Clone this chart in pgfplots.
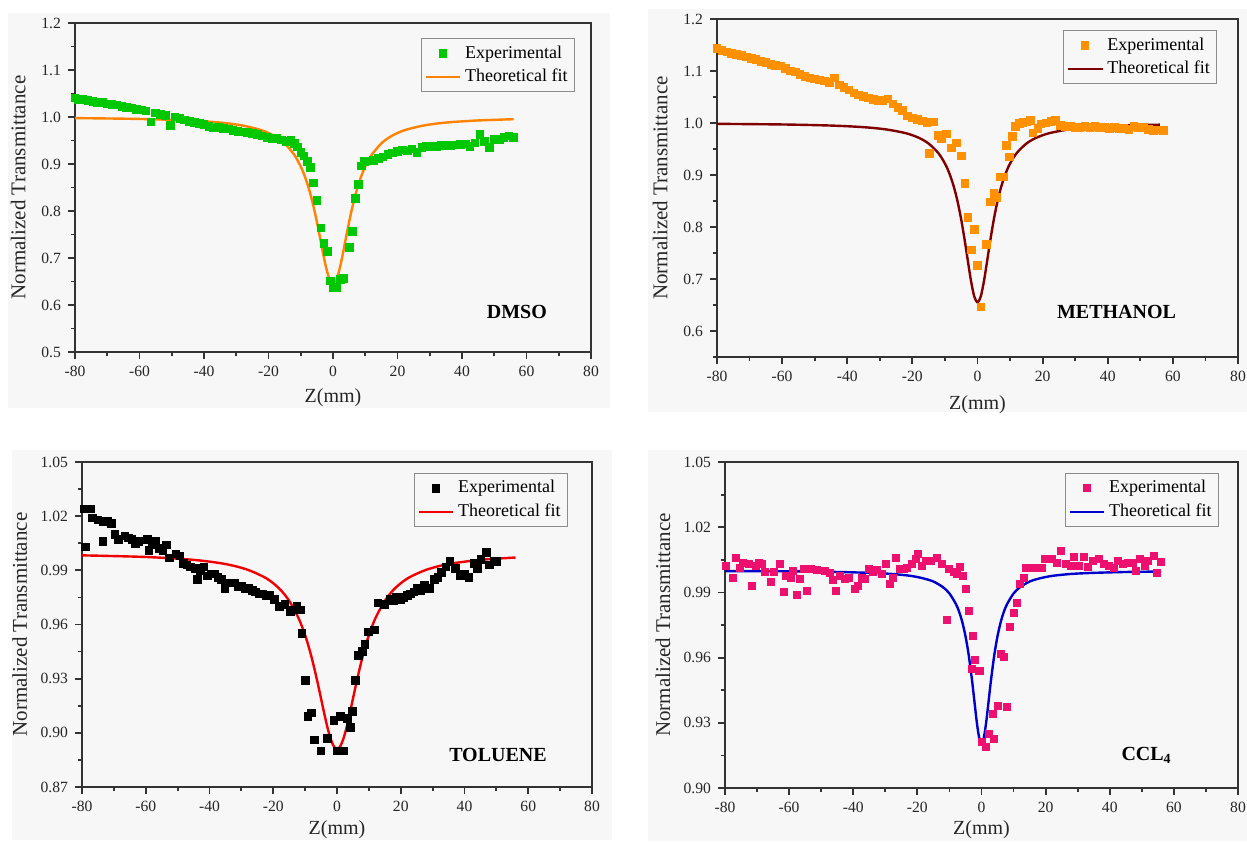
\documentclass[border=0pt]{standalone}
\usepackage{pgfplots}
\pgfplotsset{compat=1.18}
\usepackage{fontspec}
\setmainfont{Liberation Serif}

\definecolor{bgpanel}{RGB}{247,247,247}
\definecolor{dmsopts}{RGB}{0,200,0}
\definecolor{dmsofit}{RGB}{255,130,0}
\definecolor{methpts}{RGB}{255,145,0}
\definecolor{methfit}{RGB}{128,0,0}
\definecolor{tolfit}{RGB}{240,0,0}
\definecolor{ccpts}{RGB}{238,16,110}
\definecolor{ccfit}{RGB}{0,0,205}

\pgfplotsset{
  zscan/.style={
    scale only axis,
    xmin=-80, xmax=80,
    xtick={-80,-60,-40,-20,0,20,40,60,80},
    xticklabels={-80,-60,-40,-20,0,20,40,60,80},
    minor xtick={-70,-50,-30,-10,10,30,50,70},
    tick align=outside,
    xtick pos=left, ytick pos=left,
    major tick length=3.5pt, minor tick length=2pt,
    axis line style={line width=0.9pt, black!80},
    tick style={line width=0.9pt, black!80},
    ticklabel style={font=\fontsize{7.8}{9}\selectfont, text=black!85},
    xlabel={Z(mm)}, ylabel={Normalized Transmittance},
    label style={text=black!85},
    legend cell align=left,
    legend style={draw=black!45, fill=bgpanel, anchor=north east,
      font=\fontsize{9}{10.5}\selectfont, inner sep=1.5pt},
  },
  expts/.style={only marks, mark=square*, mark size=1.9pt},
  fitline/.style={no marks, smooth, line width=1.2pt},
  xlab/.style={xlabel style={at={(axis description cs:0.5,#1)}, anchor=center,
      font=\fontsize{10}{12}\selectfont}},
  ylab/.style={ylabel style={at={(axis description cs:#1,0.5)}, anchor=center,
      font=\fontsize{10.5}{12}\selectfont}},
}

\begin{document}
\begin{tikzpicture}
\path[use as bounding box] (0,0) rectangle (623.5pt,-420.5pt);
\fill[bgpanel] (4pt,-6.5pt) rectangle (305pt,-204pt);
\fill[bgpanel] (324pt,-4.5pt) rectangle (623.5pt,-206pt);
\fill[bgpanel] (6pt,-225pt) rectangle (306pt,-420pt);
\fill[bgpanel] (324pt,-225pt) rectangle (623.5pt,-420.5pt);

% DMSO
\begin{axis}[zscan, at={(37.5pt,-176pt)}, anchor=south west,
  width=258pt, height=164.5pt,
  ymin=0.5, ymax=1.2,
  ytick={0.5,0.6,0.7,0.8,0.9,1.0,1.1,1.2},
  yticklabels={0.5,0.6,0.7,0.8,0.9,1.0,1.1,1.2},
  minor ytick={0.55,0.65,0.75,0.85,0.95,1.05,1.15},
  xlab=-0.14, ylab=-0.11,
  legend style={at={(0.969,0.954)}}]
\addplot[expts, color=dmsopts] coordinates {
(-80,1.041) (-79,1.038) (-77.5,1.037) (-76,1.035) (-74.5,1.033) (-73,1.031)
(-71.5,1.031) (-70,1.028) (-68.5,1.027) (-67,1.026) (-65.5,1.022) (-64,1.021)
(-62.5,1.019) (-61,1.016) (-59.5,1.015) (-58,1.013) (-56.5,0.990) (-55,1.009)
(-53.5,1.006) (-52,1.004) (-50.5,0.982) (-49,1.000) (-47.5,0.997) (-46,0.994)
(-44.5,0.991) (-43,0.989) (-41.5,0.986) (-40,0.984) (-38.5,0.980) (-37,0.977)
(-35.5,0.978) (-34,0.976) (-32.5,0.975) (-31,0.972) (-29.5,0.970) (-28,0.968)
(-26.5,0.967) (-25,0.965) (-23.5,0.963) (-22,0.960) (-20.5,0.957) (-19,0.955)
(-17.5,0.954) (-16,0.951) (-14.5,0.948) (-13,0.950) (-12,0.944) (-11,0.936)
(-10,0.925) (-9,0.917) (-8,0.905) (-7,0.893) (-6,0.860) (-5,0.822)
(-3.8,0.764) (-2.8,0.731) (-1.8,0.714) (-0.8,0.651) (0.2,0.638) (1.2,0.636)
(2.2,0.655) (3.2,0.656) (5.0,0.722) (6.0,0.756) (7.0,0.827) (7.8,0.856)
(8.8,0.896) (9.8,0.905) (11,0.907) (12.5,0.908) (14,0.912) (15.5,0.915)
(17,0.921) (18.5,0.924) (20,0.927) (21.5,0.930) (23,0.928) (24.5,0.932)
(26,0.925) (27.5,0.935) (29,0.937) (30.5,0.937) (32,0.938) (33.5,0.940)
(35,0.939) (36.5,0.940) (38,0.941) (39.5,0.942) (41,0.943) (42.5,0.937)
(44,0.945) (45.5,0.963) (47,0.948) (48.5,0.935) (50,0.952) (51.5,0.953)
(53,0.956) (54.5,0.960) (56,0.957)
};
\addlegendentry{Experimental}
\addplot[fitline, color=dmsofit] coordinates {
(-80,0.9977) (-60,0.9959) (-45,0.9927) (-35,0.9882) (-28,0.9818) (-22,0.9715)
(-18,0.9590) (-15,0.9439) (-12,0.9195) (-10,0.8946) (-9,0.8783) (-8,0.8589)
(-7,0.8356) (-6,0.8083) (-5,0.7770) (-4,0.7425) (-3,0.7073) (-2,0.6757)
(-1,0.6532) (0,0.645) (1,0.6532) (2,0.6757) (3,0.7073) (4,0.7425) (5,0.7770)
(6,0.8083) (7,0.8356) (8,0.8589) (9,0.8783) (10,0.8946) (12,0.9195)
(15,0.9439) (18,0.9590) (22,0.9715) (28,0.9818) (35,0.9882) (45,0.9927)
(56,0.9953)
};
\addlegendentry{Theoretical fit}
\node[font=\bfseries\fontsize{10}{12}\selectfont] at (axis cs:57,0.585) {DMSO};
\end{axis}

% METHANOL
\begin{axis}[zscan, at={(358.5pt,-178.5pt)}, anchor=south west,
  width=260.5pt, height=169pt,
  ymin=0.55, ymax=1.2,
  ytick={0.6,0.7,0.8,0.9,1.0,1.1,1.2},
  yticklabels={0.6,0.7,0.8,0.9,1.0,1.1,1.2},
  minor ytick={0.55,0.65,0.75,0.85,0.95,1.05,1.15},
  xlab=-0.142, ylab=-0.109,
  legend style={at={(0.960,0.967)}}]
\addplot[expts, color=methpts] coordinates {
(-80,1.143) (-78.5,1.140) (-77,1.137) (-75.5,1.134) (-74,1.132) (-72.5,1.130)
(-71,1.127) (-69.5,1.124) (-68,1.122) (-66.5,1.119) (-65,1.116) (-63.5,1.113)
(-62,1.111) (-60.5,1.110) (-59,1.105) (-57.5,1.100) (-56,1.098) (-54.5,1.094)
(-53,1.090) (-51.5,1.087) (-50,1.085) (-48.5,1.083) (-47,1.081) (-45.5,1.078)
(-44,1.087) (-42.5,1.073) (-41,1.068) (-39.5,1.064) (-38,1.058) (-36.5,1.054)
(-35,1.051) (-33.5,1.048) (-32,1.045) (-30.5,1.044) (-29,1.043) (-27.5,1.046)
(-26,1.037) (-24.5,1.030) (-23,1.024) (-21.5,1.014) (-20,1.010) (-18.5,1.007)
(-17,1.004) (-15.5,1.001) (-14.8,0.942) (-13.5,1.002) (-12,0.976) (-11,0.970)
(-9.5,0.979) (-8,0.952) (-6.5,0.962) (-5,0.937) (-3.9,0.884) (-2.9,0.819)
(-1.9,0.756) (-0.9,0.795) (0,0.726) (1,0.646) (2.7,0.767) (3.9,0.848)
(5,0.865) (6,0.857) (7,0.896) (8,0.896) (8.8,0.957) (9.8,0.935)
(10.8,0.974) (11.7,0.994) (12.8,0.999) (14,1.001) (15.2,1.002) (16.2,1.005)
(17,0.981) (18.5,0.990) (19.5,0.998) (21,1.000) (22.5,1.003) (24,1.005)
(25.5,0.995) (27,0.993) (28.5,0.993) (30,0.992) (31.5,0.991) (33,0.993)
(34.5,0.992) (36,0.994) (37.5,0.992) (39,0.991) (40.5,0.990) (42,0.992)
(43.5,0.989) (45,0.990) (46.5,0.988) (48,0.993) (49.5,0.991) (51,0.992)
(52.5,0.988) (54,0.986) (55.5,0.987) (57,0.986)
};
\addlegendentry{Experimental}
\addplot[fitline, color=methfit] coordinates {
(-80,0.9984) (-60,0.9972) (-45,0.9951) (-35,0.9920) (-28,0.9876) (-22,0.9804)
(-18,0.9715) (-15,0.9604) (-12,0.9419) (-10,0.9221) (-9,0.9087) (-8,0.8920)
(-7,0.8713) (-6,0.8456) (-5,0.8142) (-4,0.7772) (-3,0.7364) (-2,0.6966)
(-1,0.6664) (0,0.655) (1,0.6664) (2,0.6966) (3,0.7364) (4,0.7772) (5,0.8142)
(6,0.8456) (7,0.8713) (8,0.8920) (9,0.9087) (10,0.9221) (12,0.9419)
(15,0.9604) (18,0.9715) (22,0.9804) (28,0.9876) (35,0.9920) (45,0.9951)
(56,0.9968)
};
\addlegendentry{Theoretical fit}
\node[font=\bfseries\fontsize{10}{12}\selectfont] at (axis cs:42.7,0.6365) {METHANOL};
\end{axis}

% TOLUENE
\begin{axis}[zscan, at={(41pt,-393.5pt)}, anchor=south west,
  width=255pt, height=162.5pt,
  ymin=0.87, ymax=1.05,
  ytick={0.87,0.90,0.93,0.96,0.99,1.02,1.05},
  yticklabels={0.87,0.90,0.93,0.96,0.99,1.02,1.05},
  minor ytick={0.885,0.915,0.945,0.975,1.005,1.035},
  xlab=-0.132, ylab=-0.122,
  legend style={at={(0.953,0.966)}}]
\addplot[expts, color=black] coordinates {
(-79.4,1.024) (-79.0,1.003) (-77.3,1.024) (-76.7,1.019) (-75.0,1.018) (-73.5,1.006)
(-73.5,1.017) (-71.9,1.017) (-70.8,1.016) (-69.7,1.010) (-68.6,1.007) (-66.5,1.009)
(-65.4,1.008) (-64.4,1.007) (-63.3,1.005) (-62.2,1.006) (-59.5,1.007) (-59.0,1.001)
(-57.9,1.004) (-56.8,1.006) (-55.7,1.002) (-54.6,1.001) (-53.6,1.004) (-52.5,0.997)
(-50.5,0.999) (-49.3,0.998) (-48.2,0.994) (-47.1,0.993) (-46.0,0.992) (-44.4,0.991)
(-43.8,0.985) (-42.8,0.990) (-41.7,0.992) (-40.6,0.987) (-39.5,0.988) (-38.5,0.988)
(-37.4,0.986) (-36.3,0.985) (-35.2,0.980) (-33.6,0.983) (-32.0,0.983) (-30.9,0.981)
(-29.8,0.981) (-28.7,0.980) (-27.7,0.980) (-26.6,0.979) (-25.6,0.978) (-24.5,0.977)
(-23.4,0.977) (-22.3,0.976) (-21.2,0.976) (-19.6,0.974) (-18.0,0.970) (-16.3,0.971)
(-14.7,0.967) (-13.6,0.968) (-12.6,0.970) (-11.5,0.968) (-11.0,0.955) (-9.9,0.929)
(-9.1,0.909) (-8.0,0.911) (-7.0,0.896) (-5.0,0.890) (-3.1,0.897) (-1.0,0.907)
(0.0,0.890) (1.0,0.909) (2.1,0.890) (3.2,0.908) (4.2,0.903) (4.9,0.912)
(5.8,0.929) (6.8,0.943) (7.9,0.945) (8.8,0.949) (9.9,0.956) (11.7,0.957)
(12.8,0.972) (14.9,0.971) (16.6,0.974) (17.6,0.973) (18.7,0.975) (19.8,0.974)
(20.9,0.975) (22.0,0.976) (23.0,0.977) (24.1,0.978) (25.2,0.980) (26.3,0.979)
(27.4,0.982) (29.0,0.980) (30.6,0.985) (31.6,0.986) (32.7,0.989) (34.2,0.992)
(35.4,0.995) (37.1,0.991) (38.7,0.987) (40.0,0.988) (41.4,0.986) (43.0,0.994)
(44.0,0.991) (45.1,0.996) (46.8,1.000) (47.8,0.993) (49.3,0.995) (50.0,0.995)
};
\addlegendentry{Experimental}
\addplot[fitline, color=tolfit] coordinates {
(-80,0.9983) (-60,0.9974) (-45,0.9958) (-35,0.9935) (-28,0.9903) (-22,0.9854)
(-18,0.9797) (-15,0.9731) (-12,0.9633) (-10,0.9540) (-9,0.9484) (-8,0.9420)
(-7,0.9348) (-6,0.9271) (-5,0.9189) (-4,0.9107) (-3,0.9030) (-2,0.8967)
(-1,0.8925) (0,0.891) (1,0.8925) (2,0.8967) (3,0.9030) (4,0.9107) (5,0.9189)
(6,0.9271) (7,0.9348) (8,0.9420) (9,0.9484) (10,0.9540) (12,0.9633)
(15,0.9731) (18,0.9797) (22,0.9854) (28,0.9903) (35,0.9935) (45,0.9958)
(56,0.9971)
};
\addlegendentry{Theoretical fit}
\node[font=\bfseries\fontsize{10}{12}\selectfont] at (axis cs:50.5,0.888) {TOLUENE};
\end{axis}

% CCL4
\begin{axis}[zscan, at={(362.5pt,-394pt)}, anchor=south west,
  width=256.5pt, height=163pt,
  ymin=0.90, ymax=1.05,
  ytick={0.90,0.93,0.96,0.99,1.02,1.05},
  yticklabels={0.90,0.93,0.96,0.99,1.02,1.05},
  minor ytick={0.915,0.945,0.975,1.005,1.035},
  xlab=-0.129, ylab=-0.121,
  legend style={at={(0.963,0.966)}}]
\addplot[expts, mark size=1.75pt, color=ccpts] coordinates {
(-79.7,1.0022) (-77.5,0.9966) (-76.5,1.0060) (-75.4,1.0015) (-74.3,1.0037) (-72.7,1.0030)
(-71.6,0.9930) (-70.5,1.0022) (-69.5,1.0037) (-68.4,1.0030) (-67.5,0.9996) (-65.7,0.9950)
(-64.6,0.9996) (-63.0,1.0030) (-61.6,0.9903) (-60.9,0.9976) (-59.6,0.9969) (-58.7,0.9999)
(-57.6,0.9889) (-56.6,0.9961) (-55.5,1.0010) (-54.6,0.9905) (-53.3,1.0010) (-51.2,1.0004)
(-49.0,1.0000) (-47.4,0.9992) (-46.3,0.9956) (-45.5,0.9908) (-44.2,0.9976) (-42.6,0.9961)
(-41.5,0.9969) (-39.6,0.9918) (-38.5,0.9930) (-37.4,0.9969) (-36.3,0.9961) (-35.1,1.0007)
(-34.0,0.9996) (-32.7,1.0002) (-31.0,0.9987) (-29.7,1.0030) (-28.6,0.9941) (-27.5,0.9969)
(-26.7,1.0060) (-25.6,1.0007) (-24.3,1.0007) (-23.2,1.0011) (-21.6,1.0030) (-20.5,1.0053)
(-19.8,1.0076) (-18.7,1.0022) (-17.3,1.0045) (-15.7,1.0045) (-13.8,1.0057) (-12.5,1.0033)
(-10.9,0.9773) (-10.1,1.0007) (-8.7,0.9996) (-7.6,0.9987) (-6.6,1.0018) (-5.8,0.9976)
(-4.9,0.9915) (-3.9,0.9816) (-3.0,0.9549) (-2.8,0.9702) (-2.0,0.9590) (-0.9,0.9541)
(-0.4,0.9540) (0.2,0.9213) (1.3,0.9190) (2.4,0.9248) (3.4,0.9343) (4.0,0.9228)
(5.1,0.9376) (6.1,0.9618) (7.1,0.9602) (8.0,0.9373) (9.0,0.9740) (10.1,0.9808)
(11.0,0.9854) (12.0,0.9938) (13.1,0.9969) (13.9,1.0015) (15.3,1.0015) (16.8,1.0015)
(18.7,1.0011) (19.8,1.0053) (21.9,1.0053) (23.5,1.0037) (24.9,1.0091) (26.2,1.0030)
(27.8,1.0022) (28.9,1.0063) (30.3,1.0022) (31.8,1.0063) (33.2,1.0018) (34.8,1.0045)
(36.5,1.0053) (38.1,1.0030) (39.7,1.0022) (41.3,1.0015) (42.6,1.0045) (44.0,1.0030)
(45.6,1.0037) (47.2,1.0037) (48.0,0.9999) (49.4,1.0053) (51.0,1.0022) (52.0,1.0045)
(53.7,1.0068) (54.7,0.9992) (55.8,1.0042)
};
\addlegendentry{Experimental}
\addplot[fitline, color=ccfit] coordinates {
(-80,0.9998) (-60,0.9997) (-45,0.9994) (-35,0.9990) (-28,0.9985) (-22,0.9976)
(-18,0.9964) (-15,0.9950) (-12,0.9924) (-10,0.9895) (-8,0.9847) (-7,0.9812)
(-6,0.9764) (-5,0.9699) (-4,0.9613) (-3,0.9501) (-2.5,0.9437) (-2,0.9371)
(-1.5,0.9307) (-1,0.9254) (-0.5,0.9218) (0,0.9205) (0.5,0.9218) (1,0.9254)
(1.5,0.9307) (2,0.9371) (2.5,0.9437) (3,0.9501) (4,0.9613) (5,0.9699)
(6,0.9764) (7,0.9812) (8,0.9847) (10,0.9895) (12,0.9924) (15,0.9950)
(18,0.9964) (22,0.9976) (28,0.9985) (35,0.9990) (45,0.9994) (56,0.9996)
};
\addlegendentry{Theoretical fit}
\node[font=\bfseries\fontsize{10}{12}\selectfont] at (axis cs:51.5,0.915) {CCL\textsubscript{4}};
\end{axis}
\end{tikzpicture}
\end{document}
